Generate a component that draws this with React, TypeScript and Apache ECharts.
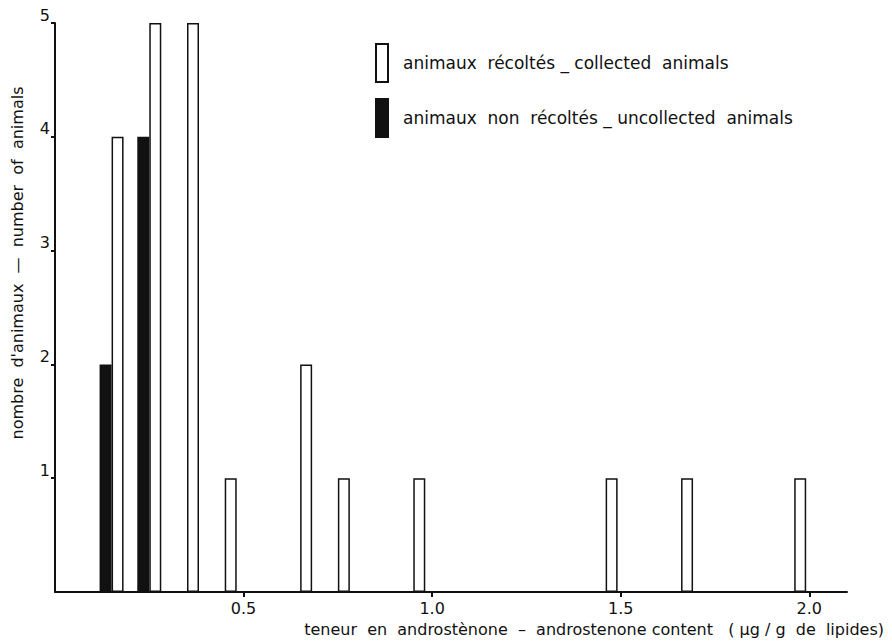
import React, { useEffect, useRef } from "react";
import * as echarts from "echarts";

const collectedName = "animaux  récoltés _ collected  animals";
const uncollectedName = "animaux  non  récoltés _ uncollected  animals";
// bin centres (µg/g) and counts
const collectedX = [0.15, 0.25, 0.35, 0.45, 0.65, 0.75, 0.95, 1.46, 1.66, 1.96];
const collectedY = [4, 5, 5, 1, 2, 1, 1, 1, 1, 1];
const uncollectedX = [0.15, 0.25];
const uncollectedY = [2, 4];
const xTicks = [0.5, 1.0, 1.5, 2.0];
const yTicks = [1, 2, 3, 4, 5];
const xTitle = "teneur  en  androstènone  –  androstenone content   ( µg / g  de  lipides)";
const yTitle = "nombre  d'animaux  —  number  of  animals";

const FONT = "'DejaVu Sans', sans-serif";

export default function App() {
  const ref = useRef<HTMLDivElement>(null);
  useEffect(() => {
    document.body.style.margin = "0";
    const chart = echarts.init(ref.current!, null, { renderer: "svg" });
    chart.setOption({
      animation: false,
      backgroundColor: "#ffffff",
      textStyle: { fontFamily: FONT, color: "#111" },
      grid: { left: 55, right: 45, top: 23, bottom: 49 },
      legend: {
        orient: "vertical",
        left: 375,
        top: 43,
        padding: 0,
        itemWidth: 12,
        itemHeight: 38,
        itemGap: 15,
        icon: "rect",
        data: [collectedName, uncollectedName],
        textStyle: { fontSize: 17, color: "#111", fontFamily: FONT, padding: [0, 0, 0, 10] },
      },
      xAxis: {
        type: "value",
        min: 0,
        max: 2.1,
        splitLine: { show: false },
        axisLine: { show: true, lineStyle: { color: "#111", width: 2 } },
        axisTick: { show: true, length: 5, lineStyle: { color: "#111", width: 2 }, customValues: xTicks },
        axisLabel: {
          customValues: xTicks,
          formatter: (v: number) => v.toFixed(1),
          fontSize: 16,
          color: "#111",
          margin: 8,
          fontFamily: FONT,
        },
      },
      yAxis: {
        type: "value",
        min: 0,
        max: 5,
        interval: 1,
        splitLine: { show: false },
        axisLine: { show: true, lineStyle: { color: "#111", width: 2 } },
        axisTick: { show: true, length: 4, lineStyle: { color: "#111", width: 2 }, customValues: yTicks },
        axisLabel: {
          customValues: yTicks,
          fontSize: 16,
          color: "#111",
          margin: 5,
          fontFamily: FONT,
          verticalAlign: "bottom",
        },
      },
      series: [
        {
          name: uncollectedName,
          type: "bar",
          barWidth: 12,
          barGap: "0%",
          data: uncollectedX.map((x, i) => [x, uncollectedY[i]]),
          itemStyle: { color: "#111", borderColor: "#111", borderWidth: 1.5 },
        },
        {
          name: collectedName,
          type: "bar",
          barWidth: 12,
          barGap: "0%",
          data: collectedX.map((x, i) => [x, collectedY[i]]),
          itemStyle: { color: "#ffffff", borderColor: "#111", borderWidth: 1.5 },
        },
      ],
      graphic: [
        {
          type: "text",
          right: 8,
          top: 621,
          style: { text: xTitle, fontSize: 16, fill: "#111", fontFamily: FONT },
        },
        {
          type: "text",
          x: 17,
          y: 263,
          rotation: Math.PI / 2,
          style: {
            text: yTitle,
            fontSize: 16,
            fill: "#111",
            fontFamily: FONT,
            align: "center",
            verticalAlign: "middle",
          },
        },
      ],
    });
    return () => chart.dispose();
  }, []);
  return <div ref={ref} style={{ width: 892, height: 641 }} />;
}
